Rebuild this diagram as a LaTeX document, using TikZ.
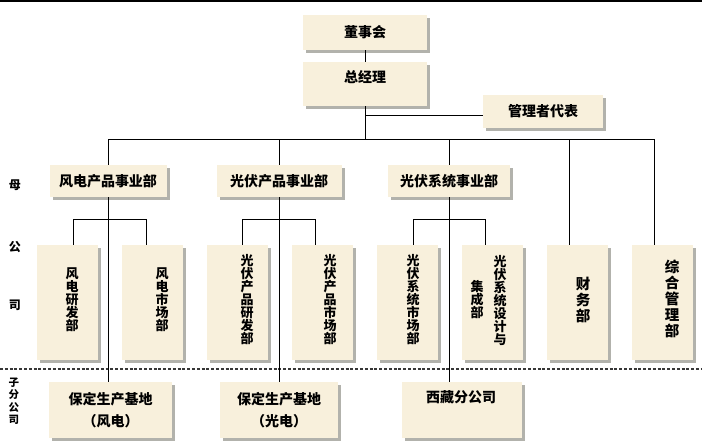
\documentclass[tikz,border=0pt]{standalone}
\usepackage{fontspec}
\newfontfamily\cjk{Noto Sans CJK SC}
\usetikzlibrary{shadows}
\definecolor{boxfill}{RGB}{248,240,220}
\definecolor{shadowc}{RGB}{178,178,172}
\definecolor{dashc}{RGB}{55,55,55}
\tikzset{
  box/.style={draw=none, fill=boxfill, inner sep=0pt,
    drop shadow={shadow xshift=3pt, shadow yshift=-3pt, fill=shadowc, opacity=1}},
  hlabel/.style={font=\cjk\bfseries\fontsize{14}{22}\selectfont, inner sep=0pt, align=center},
  vlabel/.style={font=\cjk\bfseries\fontsize{13}{13}\selectfont, inner sep=0pt, align=center},
  vbig/.style={font=\cjk\bfseries\fontsize{14.5}{16}\selectfont, inner sep=0pt, align=center},
  side/.style={font=\cjk\bfseries\fontsize{12}{13}\selectfont, inner sep=0pt, align=center},
  sidesmall/.style={font=\cjk\bfseries\fontsize{10.5}{12.5}\selectfont, inner sep=0pt, align=center},
  conn/.style={line width=0.8pt, black},
  sep/.style={dashc, line width=2.6pt, dash pattern=on 3pt off 1.8pt},
  topline/.style={black, line width=2pt},
}
\begin{document}
\begin{tikzpicture}[x=1pt, y=-1pt]
\useasboundingbox (0,0) rectangle (702,446);
\fill[white] (0,0) rectangle (702,446);
\draw[topline] (0,1.5) coordinate (tl) -- (702,1.5) coordinate (tr);

% top boxes
\node[box, hlabel, minimum width=124pt, minimum height=35pt] (dsh) at (365,32.5) {董事会};
\node[box, minimum width=124pt, minimum height=44pt] (zjl) at (365,84) {};
\node[hlabel] (zjlt) at (365,77) {总经理};
\node[box, hlabel, minimum width=120pt, minimum height=33pt] (glz) at (543,111.5) {管理者代表};

% department boxes
\node[box, hlabel, minimum width=117pt, minimum height=32pt] (fd) at (108,181) {风电产品事业部};
\node[box, hlabel, minimum width=125pt, minimum height=32pt] (gf) at (279,181) {光伏产品事业部};
\node[box, hlabel, minimum width=122pt, minimum height=32pt] (xt) at (449,181) {光伏系统事业部};

% sub boxes
\foreach \n/\cx in {b1/67.5, b2/152.5, b3/237.5, b4/322.5, b5/407.5, b6/492.5, b7/577.5, b8/662.5}
  \node[box, minimum width=61pt, minimum height=115pt] (\n) at (\cx,302.5) {};

\node[vlabel] (t1) at (72,300) {风\\电\\研\\发\\部};
\node[vlabel] (t2) at (162,300) {风\\电\\市\\场\\部};
\node[vlabel] (t3) at (247,300) {光\\伏\\产\\品\\研\\发\\部};
\node[vlabel] (t4) at (330,300) {光\\伏\\产\\品\\市\\场\\部};
\node[vlabel] (t5) at (413,300) {光\\伏\\系\\统\\市\\场\\部};
\node[vlabel] (t6a) at (500,300) {光\\伏\\系\\统\\设\\计\\与};
\node[vlabel] (t6b) at (477,300) {集\\成\\部};
\node[vbig] (t7) at (583,300) {财\\务\\部};
\node[vbig] (t8) at (672,299) {综\\合\\管\\理\\部};

% bottom boxes
\node[box, hlabel, minimum width=123pt, minimum height=56pt] (bA) at (110.5,410) {保定生产基地\\（风电）};
\node[box, hlabel, minimum width=118pt, minimum height=56pt] (bB) at (279,410) {保定生产基地\\（光电）};
\node[box, minimum width=120pt, minimum height=56pt] (bC) at (462,410) {};
\node[hlabel] (bCt) at (461,397) {西藏分公司};

% side labels
\node[side] (m1) at (15,185) {母};
\node[side] (m2) at (15,247) {公};
\node[side] (m3) at (15,305) {司};
\node[sidesmall] (zf) at (14,401) {子\\分\\公\\司};

% separator
\draw[sep] (0,369) coordinate (sl) -- (702,369) coordinate (sr);

% connectors
\draw[conn] (dsh.south) -- (zjl.north);
\draw[conn] (zjl.south) -- ++(0,34);
\draw[conn] ([yshift=-4pt]glz.west) -- ([yshift=-4pt]glz.west -| zjl.south);
\draw[conn] (fd.north) -- ++(0,-25) -| ([xshift=-8.5pt]b8.north);
\draw[conn] (gf.north) -- ++(0,-25);
\draw[conn] (xt.north) -- ++(0,-25);
\draw[conn] ([xshift=-8.5pt]b7.north) -- ++(0,-105);

\draw[conn] ([xshift=5.5pt]b1.north) -- ++(0,-25) -| ([xshift=-6.5pt]b2.north);
\draw[conn] ([xshift=4.5pt]b3.north) -- ++(0,-25) -| ([xshift=-7.5pt]b4.north);
\draw[conn] ([xshift=5.5pt]b5.north) -- ++(0,-25) -| ([xshift=-7.5pt]b6.north);

\draw[conn] (fd.south) -- (fd.south |- bA.north);
\draw[conn] (gf.south) -- (gf.south |- bB.north);
\draw[conn] (xt.south) -- (xt.south |- bC.north);
\end{tikzpicture}
\end{document}
